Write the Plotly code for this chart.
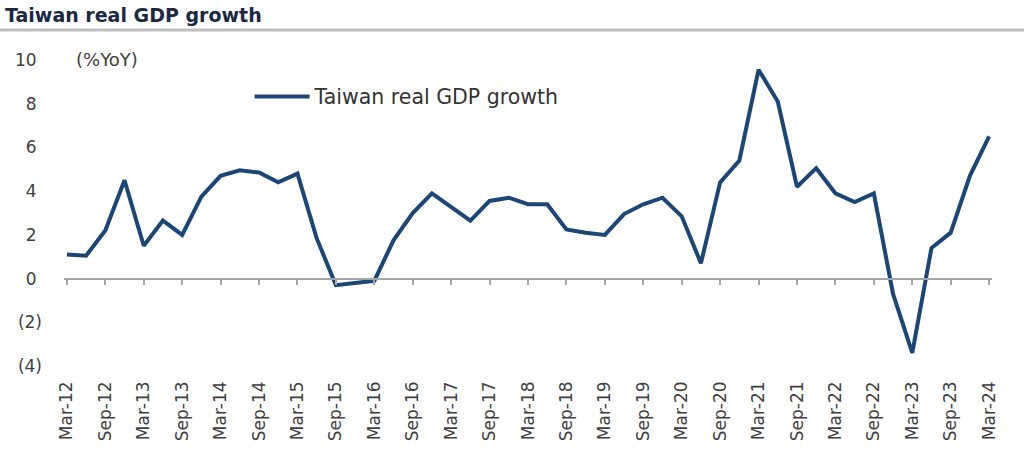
import plotly.graph_objects as go

# quarterly periods, Mar-12 .. Mar-24
quarters = [
    "Mar-12", "Jun-12", "Sep-12", "Dec-12", "Mar-13", "Jun-13", "Sep-13", "Dec-13",
    "Mar-14", "Jun-14", "Sep-14", "Dec-14", "Mar-15", "Jun-15", "Sep-15", "Dec-15",
    "Mar-16", "Jun-16", "Sep-16", "Dec-16", "Mar-17", "Jun-17", "Sep-17", "Dec-17",
    "Mar-18", "Jun-18", "Sep-18", "Dec-18", "Mar-19", "Jun-19", "Sep-19", "Dec-19",
    "Mar-20", "Jun-20", "Sep-20", "Dec-20", "Mar-21", "Jun-21", "Sep-21", "Dec-21",
    "Mar-22", "Jun-22", "Sep-22", "Dec-22", "Mar-23", "Jun-23", "Sep-23", "Dec-23",
    "Mar-24",
]

# real GDP growth, %YoY
gdp_growth = [
    1.1, 1.05, 2.2, 4.5, 1.5, 2.65, 2.0, 3.75,
    4.7, 4.95, 4.85, 4.4, 4.8, 1.85, -0.3, -0.2,
    -0.1, 1.75, 3.0, 3.9, 3.3, 2.65, 3.55, 3.7,
    3.4, 3.4, 2.25, 2.1, 2.0, 2.95, 3.4, 3.7,
    2.85, 0.7, 4.4, 5.4, 9.55, 8.1, 4.2, 5.05,
    3.9, 3.5, 3.9, -0.7, -3.4, 1.4, 2.1, 4.7,
    6.5,
]

# labelled ticks (every second quarter)
tick_labels = quarters[::2]
y_ticks = [-4, -2, 0, 2, 4, 6, 8, 10]
y_tick_text = ["(4)", "(2)", "0\u00a0", "2\u00a0", "4\u00a0", "6\u00a0", "8\u00a0", "10\u00a0"]

navy = "#1c4675"
grey_axis = "#a6a6a6"
text_col = "#404040"
font_main = "DejaVu Sans"
y_min, y_max = -4.5, 10.5

fig = go.Figure()
fig.add_trace(go.Scatter(
    x=quarters, y=gdp_growth, mode="lines", name="Taiwan real GDP growth",
    line=dict(color=navy, width=4),
))

fig.update_layout(
    width=1024, height=452,
    margin=dict(l=64, r=32, t=49, b=75),
    paper_bgcolor="white", plot_bgcolor="white",
    font=dict(family=font_main, color=text_col, size=17),
    showlegend=True,
    legend=dict(x=0.2, y=0.855, xanchor="left", yanchor="middle", itemwidth=55,
                bgcolor="rgba(0,0,0,0)", font=dict(size=20.5, color="#333333")),
    # label axis at the bottom
    xaxis=dict(type="category", range=[-0.15, 48.15], showline=False, ticks="",
               showgrid=False, zeroline=False, tickangle=-90, automargin=False,
               tickvals=tick_labels, ticktext=tick_labels,
               tickfont=dict(size=17, color=text_col)),
    # axis line with tick marks sitting at y = 0
    xaxis2=dict(type="category", overlaying="x", matches="x", anchor="free",
                position=(0 - y_min) / (y_max - y_min), side="bottom",
                showline=True, linecolor=grey_axis, linewidth=1.5,
                ticks="outside", ticklen=6, tickwidth=1.5, tickcolor=grey_axis,
                tickvals=tick_labels, showticklabels=False, showgrid=False, zeroline=False),
    yaxis=dict(range=[y_min, y_max], tickvals=y_ticks, ticktext=y_tick_text,
               showgrid=False, zeroline=False, showline=False, ticks="",
               automargin=False, ticklabelstandoff=21,
               tickfont=dict(size=17, color=text_col)),
)

# invisible copy so the y = 0 axis is drawn
fig.add_trace(go.Scatter(x=quarters, y=gdp_growth, xaxis="x2", mode="lines",
                         line=dict(width=0), showlegend=False, hoverinfo="skip"))

fig.add_annotation(text="(%YoY)", xref="paper", yref="y", x=0.011, y=10,
                   xanchor="left", yanchor="middle", showarrow=False,
                   font=dict(size=18, color=text_col))

# chart title and rule beneath it
fig.add_annotation(text="<b>Taiwan real GDP growth</b>", xref="paper", yref="paper",
                   x=-61 / 928, y=1 + 34 / 328, xanchor="left", yanchor="middle",
                   showarrow=False,
                   font=dict(family=font_main, size=19, color="#1a2844"))
fig.add_shape(type="line", xref="paper", yref="paper",
              x0=-64 / 928, x1=1 + 32 / 928, y0=1 + 19 / 328, y1=1 + 19 / 328,
              line=dict(color="#bfbfbf", width=3))

fig.write_html("out.html", config={"displayModeBar": False},
               post_script="document.body.style.margin='0';")
